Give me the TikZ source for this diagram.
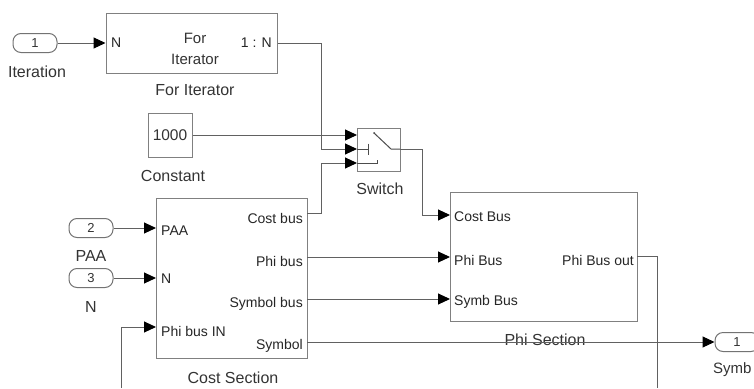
\documentclass[tikz,border=0pt]{standalone}
\usepackage{fontspec}
\setmainfont{Liberation Sans}
\usetikzlibrary{arrows.meta,calc}
\tikzset{
  blk/.style={draw=black!50, line width=1pt, fill=white, inner sep=0pt},
  port/.style={draw=black!55, line width=1pt, rounded corners=8pt, minimum width=44pt, minimum height=19pt, inner sep=0pt, font=\fontsize{13}{13}\selectfont, text=black!80},
  lbl/.style={font=\fontsize{16}{16}\selectfont, text=black!80, inner sep=0pt},
  plbl/.style={font=\fontsize{14}{14}\selectfont, text=black!85, inner sep=0pt},
  wire/.style={draw=black!62, line width=1pt},
  sig/.style={wire, -{Triangle[length=12pt,width=11pt,color=black]}},
}
\begin{document}
\begin{tikzpicture}[x=1pt,y=-1pt]
\useasboundingbox (0,0) rectangle (754,388);
\clip (0,0) rectangle (754,388);

% ---- blocks ----
\node[port] (in1) at (35,43) {1};
\node[lbl] (in1lbl) at (37,72) {Iteration};

\node[blk, minimum width=171pt, minimum height=60pt] (forit) at (191.5,43) {};
\node[plbl, anchor=west] (fiN) at (111,43) {N};
\node[lbl, align=center, font=\fontsize{15}{21}\selectfont] (fitxt) at (195,49) {For\\Iterator};
\node[plbl, anchor=east] (fi1N) at (272,43) {1 : N};
\node[lbl] (filbl) at (195,90) {For Iterator};

\node[blk, minimum width=44pt, minimum height=44pt, font=\fontsize{15.5}{15.5}\selectfont, text=black!80] (const) at (170,135) {1000};
\node[lbl] (constlbl) at (173,176) {Constant};

\node[blk, minimum width=43pt, minimum height=43pt] (sw) at (378.5,149.5) {};
\node[lbl] (swlbl) at (380,189) {Switch};
\coordinate (sw1) at (357,135);
\coordinate (sw2) at (357,149);
\coordinate (sw3) at (357,163);
\coordinate (swo) at (400,149);
% switch icon
\draw[black!70, line width=1pt] (374,133) -- (391,149) -- (swo);
\fill[black!70] (374,133) circle (1pt);
\draw[black!70, line width=1pt] (sw2) -- (368,149) (368,143.5) -- (368,154.5);
\draw[black!70, line width=1pt] (sw3) -- (377,163) -- (377,160);

\node[port] (in2) at (91,228) {2};
\node[lbl] (in2lbl) at (91,256) {PAA};
\node[port] (in3) at (91,278) {3};
\node[lbl] (in3lbl) at (91,307) {N};

\node[blk, minimum width=151pt, minimum height=160pt] (cost) at (231.5,278) {};
\coordinate (cPAA) at (156,228);
\coordinate (cN) at (156,278);
\coordinate (cPhiIn) at (156,327);
\coordinate (cCost) at (307,213);
\coordinate (cPhi) at (307,257);
\coordinate (cSymB) at (307,299);
\coordinate (cSym) at (307,342);
\node[plbl, anchor=west] (lPAA) at (161,231) {PAA};
\node[plbl, anchor=west] (lN) at (161,279) {N};
\node[plbl, anchor=west] (lPhiIn) at (161,331) {Phi bus IN};
\node[plbl, anchor=east] (lCost) at (303,218) {Cost bus};
\node[plbl, anchor=east] (lPhi) at (303,261) {Phi bus};
\node[plbl, anchor=east] (lSymB) at (303,304) {Symbol bus};
\node[plbl, anchor=east] (lSym) at (303,346) {Symbol};
\node[lbl] (costlbl) at (233,378) {Cost Section};

\node[blk, minimum width=187pt, minimum height=129pt] (phi) at (543.5,256.5) {};
\coordinate (pCost) at (450,215);
\coordinate (pPhi) at (450,257);
\coordinate (pSym) at (450,299);
\coordinate (pOut) at (637,256);
\node[plbl, anchor=west] (lpCost) at (454,217) {Cost Bus};
\node[plbl, anchor=west] (lpPhi) at (454,260) {Phi Bus};
\node[plbl, anchor=west] (lpSym) at (454,302) {Symb Bus};
\node[plbl, anchor=east] (lpOut) at (634,260) {Phi Bus out};
\node[lbl] (philbl) at (545,340) {Phi Section};

\node[port] (out1) at (737,342) {1};
\node[lbl, anchor=west, font=\fontsize{15}{15}\selectfont] (out1lbl) at (713,370) {Symb};

\coordinate (fbA) at (121,388);
\coordinate (fbB) at (657,388);

% ---- connectors ----
\draw[sig] (in1.east) -- (forit.west);
\draw[sig] (forit.east |- fi1N) -- (321,43) |- (sw2);
\draw[sig] (const.east) -- (sw1);
\draw[sig] (cCost) -- (321,213) |- (sw3);
\draw[sig] (swo) -- (422,149) |- (pCost);
\draw[sig] (in2.east) -- (cPAA);
\draw[sig] (in3.east) -- (cN);
\draw[sig] (fbA) |- (cPhiIn);
\draw[sig] (cPhi) -- (pPhi);
\draw[sig] (cSymB) -- (pSym);
\draw[sig] (cSym) -- (out1.west);
\draw[wire] (pOut) -| (fbB);
\end{tikzpicture}
\end{document}
